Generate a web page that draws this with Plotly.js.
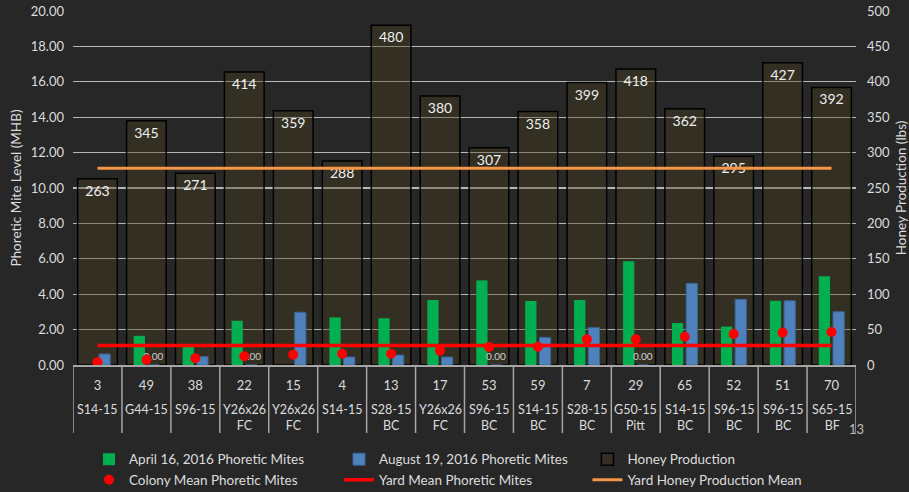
<!DOCTYPE html>
<html><head><meta charset="utf-8">
<script src="https://cdn.plot.ly/plotly-3.0.1.min.js"></script>
<style>html,body{margin:0;padding:0;background:#272728;} #chart{width:909px;height:492px;}</style>
</head><body><div id="chart"></div>
<script>
const colonies = ['3','49','38','22','15','4','13','17','53','59','7','29','65','52','51','70'];
const yards = ['S14-15','G44-15','S96-15','Y26x26<br>FC','Y26x26<br>FC','S14-15','S28-15<br>BC','Y26x26<br>FC','S96-15<br>BC','S14-15<br>BC','S28-15<br>BC','G50-15<br>Pitt','S14-15<br>BC','S96-15<br>BC','S96-15<br>BC','S65-15<br>BF'];
const aprilMites = [0,1.65,1.05,2.5,0,2.69,2.64,3.67,4.78,3.62,3.67,5.86,2.37,2.17,3.63,5.01];
const augustMites = [0.62,0,0.47,0,2.98,0.45,0.56,0.45,0,1.56,2.11,0,4.61,3.71,3.63,3.01];
const colonyMean = [0.15,0.30,0.38,0.49,0.58,0.64,0.64,0.81,1.02,1.03,1.45,1.45,1.60,1.75,1.83,1.86];
const honey = [263,345,271,414,359,288,480,380,307,358,399,418,362,295,427,392];
const yardMiteMean = [1.1, 1.1];
const yardHoneyMean = [278, 278];
const slideNumber = '13';

const FONT = 'Lato, "Open Sans", sans-serif';
const TXT = '#dcdcdc';
const ends = [colonies[0], colonies[colonies.length-1]];

const traces = [
  {type:'bar', name:'Honey Production', x:colonies, y:honey, yaxis:'y',
   offset:-0.405, width:0.81,
   marker:{color:'rgba(72,60,30,0.38)', line:{color:'#000000', width:1.5}},
   text:honey.map(String), textposition:'inside', insidetextanchor:'end', constraintext:'none',
   textfont:{family:FONT, size:14, color:'#f0f0f0'}, legend:'legend3', hoverinfo:'skip'},
  {type:'scatter', mode:'lines', name:'Yard Honey Production Mean', x:ends, y:yardHoneyMean, yaxis:'y',
   line:{color:'#f79646', width:3}, legend:'legend3', hoverinfo:'skip'},
  {type:'bar', name:'April 16, 2016 Phoretic Mites', x:colonies, y:aprilMites, yaxis:'y2',
   offset:-0.26, width:0.23, marker:{color:'#00b050'}, legend:'legend', hoverinfo:'skip'},
  {type:'bar', name:'August 19, 2016 Phoretic Mites', x:colonies, y:augustMites, yaxis:'y2',
   offset:0.03, width:0.23, marker:{color:'#4f81bd', line:{color:'#3a6494', width:1}},
   text:augustMites.map(v => v === 0 ? v.toFixed(2) : ''), textposition:'outside', constraintext:'none', cliponaxis:false,
   textfont:{family:FONT, size:10, color:'#d0d0d0'}, legend:'legend2', hoverinfo:'skip'},
  {type:'scatter', mode:'lines', name:'Yard Mean Phoretic Mites', x:ends, y:yardMiteMean, yaxis:'y2',
   line:{color:'#ff0000', width:3.5}, legend:'legend2', hoverinfo:'skip'},
  {type:'scatter', mode:'markers', name:'Colony Mean Phoretic Mites', x:colonies, y:colonyMean, yaxis:'y2',
   marker:{color:'#ff0000', size:10}, legend:'legend', hoverinfo:'skip'}
];

const shapes = [];
for (let i = 0; i <= colonies.length; i++) {
  shapes.push({type:'line', xref:'x', yref:'paper', x0:i-0.5, x1:i-0.5, y0:0, y1:-0.192,
    line:{color:'#a6a6a6', width:1.5}});
}
const annotations = yards.map((name, i) => ({
  xref:'x', yref:'paper', x:i, y:-0.1, yanchor:'top', xanchor:'center', showarrow:false,
  text:name, font:{family:FONT, size:12.5, color:TXT}
}));
annotations.push({xref:'paper', yref:'paper', x:1.0, y:-0.18, xanchor:'center', yanchor:'middle',
  showarrow:false, text:slideNumber, font:{family:FONT, size:13, color:'#bfbfbf'}});

const legendBase = {orientation:'v', yanchor:'top', xanchor:'left', y:-0.223, bgcolor:'rgba(0,0,0,0)',
  font:{family:FONT, size:13.5, color:TXT}, tracegroupgap:0, itemwidth:30};

const layout = {
  width:909, height:492,
  margin:{l:73, r:53, t:11, b:127, autoexpand:false},
  paper_bgcolor:'#272728', plot_bgcolor:'#272728',
  font:{family:FONT, color:TXT, size:13},
  barmode:'overlay',
  showlegend:true,
  xaxis:{type:'category', range:[-0.5, colonies.length-0.5], showgrid:false, zeroline:false,
    showline:true, linecolor:'#a6a6a6', linewidth:1.5, ticks:'', ticklabelstandoff:8,
    tickfont:{family:FONT, size:13, color:TXT}, fixedrange:true},
  yaxis:{side:'right', range:[0,500], dtick:50, tickformat:'d', showgrid:true, gridcolor:'#b8b8b8', gridwidth:1.2,
    zeroline:false, ticklabelstandoff:10, tickfont:{family:FONT, size:13, color:TXT},
    title:{text:'Honey Production (lbs)', standoff:15, font:{family:FONT, size:13.5, color:TXT}}},
  yaxis2:{overlaying:'y', side:'left', range:[0,20], dtick:2, tickformat:'.2f', showgrid:false, zeroline:false,
    ticklabelstandoff:8, tickfont:{family:FONT, size:13, color:TXT},
    title:{text:'Phoretic Mite Level (MHB)', standoff:6, font:{family:FONT, size:13.5, color:TXT}}},
  legend:Object.assign({}, legendBase, {x:0.0204}),
  legend2:Object.assign({}, legendBase, {x:0.3397}),
  legend3:Object.assign({}, legendBase, {x:0.657}),
  shapes:shapes,
  annotations:annotations
};

Plotly.newPlot('chart', traces, layout, {displayModeBar:false, staticPlot:true});
</script>
</body></html>
